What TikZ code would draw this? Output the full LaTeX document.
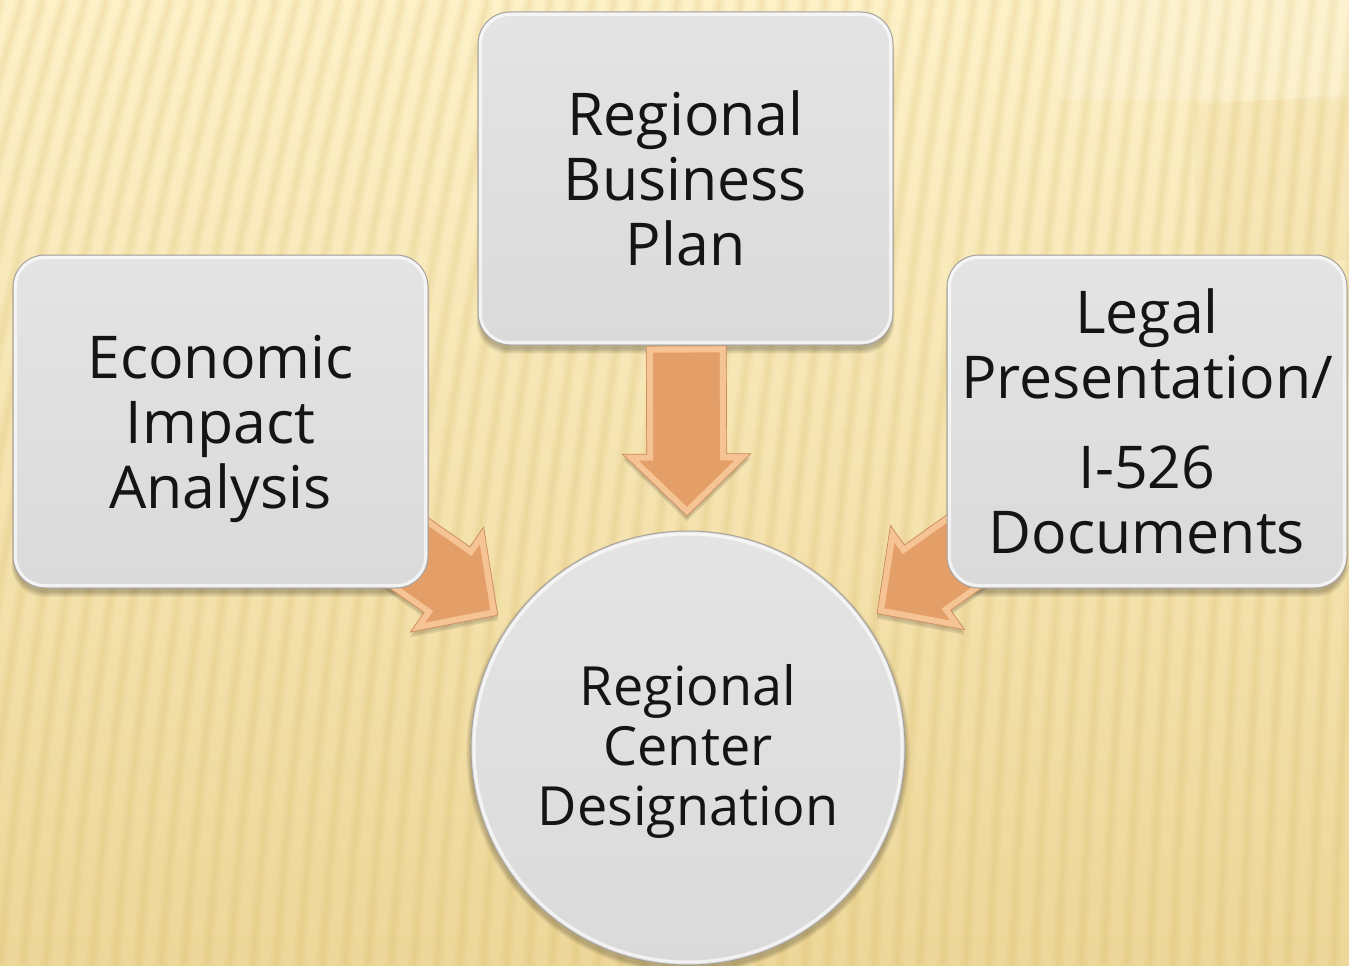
\documentclass[tikz,border=0pt]{standalone}
\usepackage{fontspec}
\setmainfont{Open Sans}
\usetikzlibrary{calc}

\definecolor{bgtop}{HTML}{FDF1C8}
\definecolor{bgbot}{HTML}{EDD799}
\definecolor{stripe}{HTML}{D2AE55}
\definecolor{boxtop}{HTML}{E4E4E4}
\definecolor{boxmid}{HTML}{BFBFBF}
\definecolor{boxbot}{HTML}{DADADA}
\definecolor{boxedge}{HTML}{A8A29C}
\definecolor{arrdark}{HTML}{E49F68}
\definecolor{arrlight}{HTML}{F5C394}
\definecolor{arredge}{HTML}{C98C5E}

\pgfdeclarelayer{bg}
\pgfdeclarelayer{lower}
\pgfsetlayers{bg,lower,main}

\newcommand\boxfont{\fontsize{59}{65}\selectfont}
\newcommand\hubfont{\fontsize{54}{60}\selectfont}

\tikzset{
  panel/.style={rounded corners=32pt, minimum width=415pt, minimum height=333pt,
    top color=boxtop, middle color=boxmid, bottom color=boxbot,
    draw=boxedge, line width=1pt, align=center, font=\boxfont, inner sep=0pt, text=black!92},
  hub/.style={circle, minimum size=434pt, inner sep=0pt,
    top color=boxtop, middle color=boxmid, bottom color=boxbot,
    draw=boxedge, line width=1pt, align=center, font=\hubfont, text=black!92},
  rim/.style={draw=white, line width=3pt, opacity=.65},
}

% block arrow outline: tip at the origin, pointing along +x
\def\arrowpath{(0,0) -- (-62,64) -- (-62,40) -- (-170,40) -- (-170,-40) -- (-62,-40) -- (-62,-64) -- cycle}

% #1 source node, #2 target node, #3 name of the tip coordinate
\newcommand\flowarrow[3]{%
  \coordinate (#3) at ($(#2.center)!232pt!(#1.center)$);
  \pgfmathanglebetweenpoints{\pgfpointanchor{#1}{center}}{\pgfpointanchor{#2}{center}}%
  \let\arrang\pgfmathresult
  \begin{scope}[shift={(#3)}, yshift=-5pt, rotate=\arrang]
    \fill[black, opacity=.10] \arrowpath;
  \end{scope}
  \begin{scope}[shift={(#3)}, yshift=-3pt, rotate=\arrang]
    \fill[black, opacity=.08] \arrowpath;
  \end{scope}
  \begin{scope}[shift={(#3)}, rotate=\arrang]
    \begin{scope}
      \clip \arrowpath;
      \fill[arrdark] \arrowpath;
      \draw[arrlight, line width=13pt, line join=miter] \arrowpath;
    \end{scope}
    \draw[arredge, line width=.7pt, line join=miter] \arrowpath;
  \end{scope}
}

\begin{document}
\begin{tikzpicture}[x=1pt, y=-1pt]
\useasboundingbox (0,0) rectangle (1349,966);

% the three input panels and the hub
\node[panel] (plan) at (685.5,178.5) {Regional\\Business\\Plan};
\node[panel, text depth=0pt] (econ) at (220.5,421.5) {Economic\\Impact\\Analysis};
\node[panel, minimum width=400pt] (legal) at (1147,421.5)
  {Legal\\Presentation/\\[25pt]I-526\\Documents};
\node[hub, text depth=6pt] (hub) at (688,748) {Regional\\Center\\Designation};

% inner highlight rims
\foreach \nd in {plan,econ,legal}{
  \draw[rim, rounded corners=29pt] ($(\nd.south west)+(3,-3)$) rectangle ($(\nd.north east)+(-3,3)$);
}
\draw[rim] (hub.center) circle (214pt);

% striped background
\begin{pgfonlayer}{bg}
  \fill[top color=bgtop, bottom color=bgbot] (0,0) rectangle (1349,966);
  \begin{scope}
    \clip (0,0) rectangle (1349,966);
    \foreach \b in {-230,-207,...,1390}{
      \pgfmathsetmacro\t{170-0.08*\b}
      \foreach \w/\o in {13/.06, 8/.07, 3/.07}{
        \draw[stripe, line width=\w pt, opacity=\o]
          (\b,966) .. controls ({\b+0.15*\t},650) and ({\b+0.5*\t},300) .. ({\b+\t},0);
      }
    }
    \fill[white, opacity=.14] (1060,0) rectangle (1349,100);
    \fill[stripe, opacity=.07] (1195,105) -- (1349,95) -- (1349,260) -- (1195,260) -- cycle;
  \end{scope}
\end{pgfonlayer}

% shadows and arrows below the panels
\begin{pgfonlayer}{lower}
  \foreach \nd in {plan,econ,legal}{
    \foreach \k in {1,...,6}{
      \fill[black, opacity=.045, rounded corners=32pt]
        ($(\nd.south west)+(2-0.5*\k, 3+0.9*\k)$) rectangle ($(\nd.north east)+(0.5*\k-2, 6)$);
    }
  }
  \foreach \k in {1,...,6}{
    \fill[black, opacity=.04] ($(hub.center)+(0,4)$) circle ({217+0.8*\k});
  }
  \flowarrow{plan}{hub}{tipA}
  \flowarrow{econ}{hub}{tipB}
  \flowarrow{legal}{hub}{tipC}
\end{pgfonlayer}
\end{tikzpicture}
\end{document}
